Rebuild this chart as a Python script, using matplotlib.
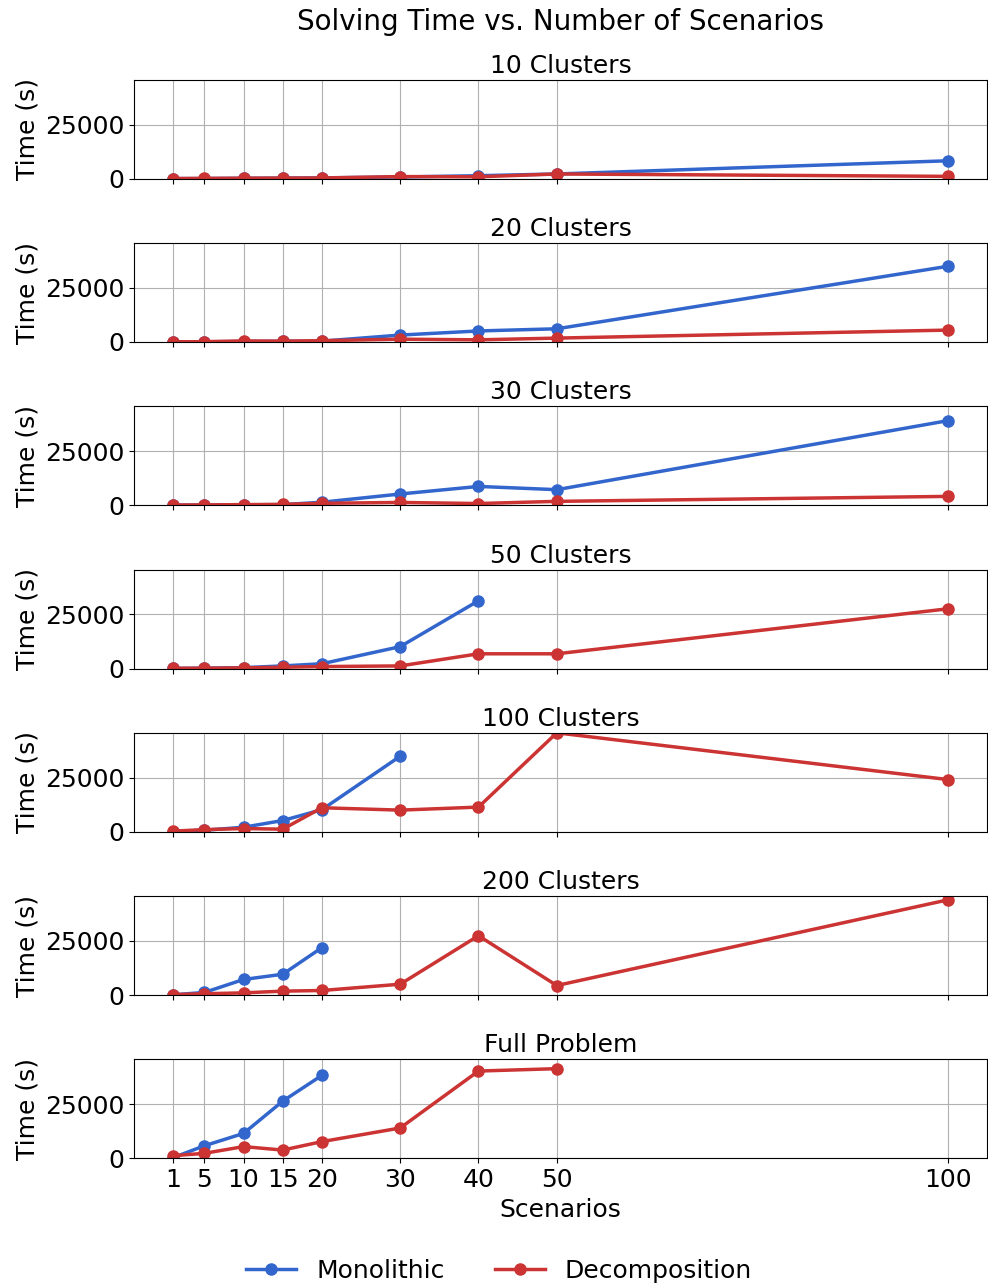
import matplotlib
matplotlib.use('Agg')
import matplotlib.pyplot as plt

scenarios = [1, 5, 10, 15, 20, 30, 40, 50, 100]

panel_titles = ['10 Clusters', '20 Clusters', '30 Clusters', '50 Clusters',
                '100 Clusters', '200 Clusters', 'Full Problem']

# solving times in seconds, None where the run did not finish
mono_10 = [50, 100, 200, 300, 400, 800, 1400, 2200, 8300]
deco_10 = [100, 150, 250, 300, 350, 1000, 900, 2200, 1100]

mono_20 = [50, 100, 200, 300, 400, 3200, 5100, 6100, 35000]
deco_20 = [100, 150, 500, 400, 600, 1300, 1000, 1800, 5500]

mono_30 = [50, 100, 200, 300, 1400, 5200, 8700, 7200, 39100]
deco_30 = [100, 150, 300, 400, 900, 1300, 800, 1800, 4100]

mono_50 = [50, 150, 400, 1200, 2200, 10100, 31300, None, None]
deco_50 = [100, 150, 300, 600, 900, 1200, 6800, 6800, 27600]

mono_100 = [100, 700, 2100, 5200, 10200, 34900, None, None, None]
deco_100 = [300, 1000, 1500, 1200, 11100, 10000, 11400, 45700, 24100]

mono_200 = [100, 1200, 7200, 9600, 21900, None, None, None, None]
deco_200 = [200, 600, 1000, 1800, 2100, 5000, 27400, 4400, 44000]

mono_full = [300, 5800, 11500, 26400, 38300, None, None, None, None]
deco_full = [1200, 2300, 5400, 3800, 7700, 14000, 40300, 41400, None]

mono_all = [mono_10, mono_20, mono_30, mono_50, mono_100, mono_200, mono_full]
deco_all = [deco_10, deco_20, deco_30, deco_50, deco_100, deco_200, deco_full]


def strip(xs, ys):
    pts = [(x, y) for x, y in zip(xs, ys) if y is not None]
    return [p[0] for p in pts], [p[1] for p in pts]


def plot_all():
    fig, axes = plt.subplots(7, 1, figsize=(9.88, 12.87), dpi=100, sharex=True)
    fig.subplots_adjust(left=0.136, right=0.999, top=0.938, bottom=0.1, hspace=0.65)

    blue = '#3366cc'
    red = '#cc3333'

    for ax, title, mono, deco in zip(axes, panel_titles, mono_all, deco_all):
        x, y = strip(scenarios, mono)
        ax.plot(x, y, color=blue, marker='o', linewidth=2.5, markersize=8,
                label='Monolithic')
        x, y = strip(scenarios, deco)
        ax.plot(x, y, color=red, marker='o', linewidth=2.5, markersize=8,
                label='Decomposition')
        ax.set_title(title, fontsize=18, pad=5)
        ax.set_ylim(0, 45700)
        ax.set_yticks([0, 25000])
        ax.set_ylabel('Time (s)', fontsize=18)
        ax.tick_params(labelsize=18)
        ax.grid(True)

    axes[-1].set_xticks(scenarios)
    axes[-1].set_xlabel('Scenarios', fontsize=18)

    handles, labels = axes[0].get_legend_handles_labels()
    fig.legend(handles, labels, loc='lower center', ncol=2, frameon=False,
               fontsize=18, bbox_to_anchor=(0.505, -0.014), columnspacing=2.0)

    # centre the main title over the axes column
    fig.suptitle('Solving Time vs. Number of Scenarios', fontsize=20,
                 x=0.5675, y=0.994)
    fig.savefig('out.png', dpi=100)


if __name__ == '__main__':
    plot_all()
